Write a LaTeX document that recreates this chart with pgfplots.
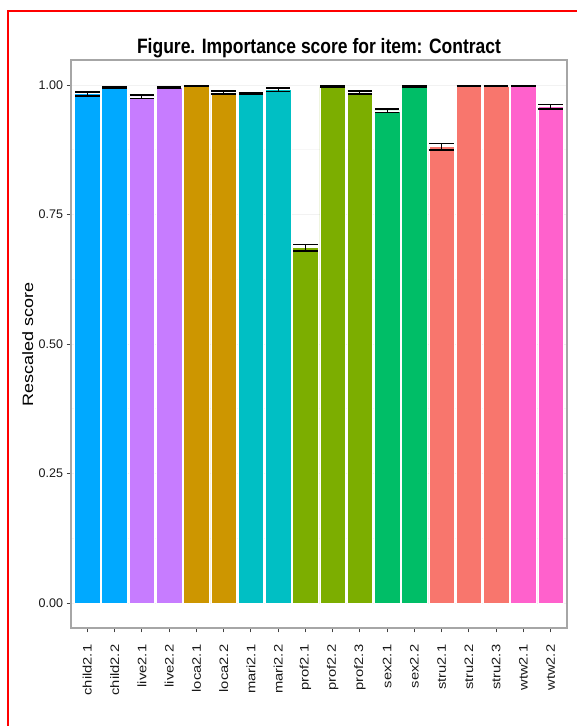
\documentclass[border=0pt]{standalone}
\usepackage{pgfplots}
\pgfplotsset{compat=1.18}
\usepackage{fontspec}
\setmainfont{Liberation Sans}
\definecolor{cchild}{HTML}{00A9FF}
\definecolor{clive}{HTML}{C77CFF}
\definecolor{cloca}{HTML}{CD9600}
\definecolor{cmari}{HTML}{00BFC4}
\definecolor{cprof}{HTML}{7CAE00}
\definecolor{csex}{HTML}{00BE67}
\definecolor{cstru}{HTML}{F8766D}
\definecolor{cwtw}{HTML}{FF61CC}
\newcommand{\xl}[1]{\scalebox{1.2}[1]{#1}}
\pgfplotsset{mybar/.style={ybar, bar width=0.94, bar shift=0pt, fill=#1, draw=white, line width=0.6pt,
  error bars/.cd, y dir=both, y explicit,
  error bar style={black, line width=0.9pt},
  error mark options={black, line width=1.8pt, mark size=12.3pt, rotate=90}}}
\begin{document}
\begin{tikzpicture}[x=1pt,y=1pt]
\useasboundingbox (0,0) rectangle (577,726);
\draw[red, line width=1.7pt] (8,0) -- (8,715) -- (577,715);
\begin{axis}[at={(71pt,98pt)}, anchor=south west, width=496pt, height=568pt, scale only axis,
  xmin=0.4, xmax=18.6, ymin=-0.04826, ymax=1.04826,
  axis line style={draw=black!35, line width=1.2pt},
  tick align=outside, tick pos=left, major tick length=4.5pt,
  tick style={draw=black!75, line width=0.8pt},
  xtick={1,...,18},
  xticklabels={\xl{child2.1},\xl{child2.2},\xl{live2.1},\xl{live2.2},\xl{loca2.1},\xl{loca2.2},\xl{mari2.1},\xl{mari2.2},\xl{prof2.1},\xl{prof2.2},\xl{prof2.3},\xl{sex2.1},\xl{sex2.2},\xl{stru2.1},\xl{stru2.2},\xl{stru2.3},\xl{wtw2.1},\xl{wtw2.2}},
  xticklabel shift=12pt,
  xticklabel style={rotate=90, anchor=east, inner sep=0pt, font=\fontsize{12.3}{14}\selectfont, text=black!90},
  ytick={0,0.25,0.5,0.75,1},
  yticklabel style={font=\fontsize{12.5}{14}\selectfont, text=black!90, /pgf/number format/.cd, fixed, fixed zerofill, precision=2, assume math mode=true},
  ymajorgrids, yminorgrids, minor ytick={0.125,0.375,0.625,0.875}, minor tick length=0pt,
  major grid style={draw=black!5, line width=0.8pt}, minor grid style={draw=black!3, line width=0.5pt},
]
\addplot[mybar=cchild] coordinates {(1,0.983) +- (0,0.004) (2,0.995) +- (0,0.0015)};
\addplot[mybar=clive] coordinates {(3,0.977) +- (0,0.003) (4,0.995) +- (0,0.0015)};
\addplot[mybar=cloca] coordinates {(5,0.998) +- (0,0.0005) (6,0.985) +- (0,0.003)};
\addplot[mybar=cmari] coordinates {(7,0.984) +- (0,0.0015) (8,0.991) +- (0,0.0035)};
\addplot[mybar=cprof] coordinates {(9,0.686) +- (0,0.006) (10,0.997) +- (0,0.0015) (11,0.985) +- (0,0.003)};
\addplot[mybar=csex] coordinates {(12,0.950) +- (0,0.003) (13,0.997) +- (0,0.0015)};
\addplot[mybar=cstru] coordinates {(14,0.881) +- (0,0.006) (15,0.998) +- (0,0.0005) (16,0.998) +- (0,0.0005)};
\addplot[mybar=cwtw] coordinates {(17,0.998) +- (0,0.0005) (18,0.958) +- (0,0.0045)};
\end{axis}
\node[anchor=base, inner sep=0pt] at (319,672) {\scalebox{1}[1.19]{\fontsize{17.5}{19}\selectfont\bfseries Figure. Importance score for item: Contract}};
\node[rotate=90, anchor=base, inner sep=0pt] at (33,382) {\scalebox{1.2}[1]{\fontsize{15}{18}\selectfont Rescaled score}};
\end{tikzpicture}
\end{document}
